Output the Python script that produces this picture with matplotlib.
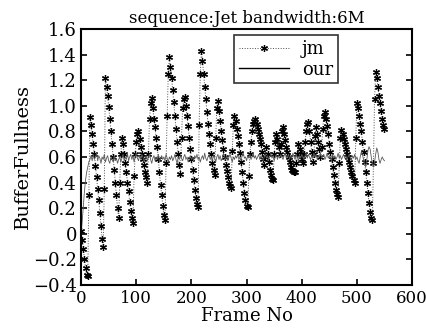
import numpy as np
import matplotlib
matplotlib.use("Agg")
import matplotlib.pyplot as plt

plt.rcParams['font.family'] = ['DejaVu Serif']

# frame numbers (every second frame)
frames = np.arange(0, 551, 2)

# buffer fullness, jm encoder
jm = [
    0.02, -0.05, -0.12, -0.20, -0.27, -0.32, -0.33, 0.30, 0.91, 0.85, 0.78, 0.70, 0.62, 0.53, 0.44, 0.35, 0.26, 0.16, 0.06, -0.04,
    -0.10, 0.35, 1.22, 1.15, 1.08, 0.99, 0.90, 0.80, 0.70, 0.60, 0.50, 0.40, 0.30, 0.20, 0.12, 0.40, 0.62, 0.75, 0.70, 0.62,
    0.55, 0.48, 0.40, 0.33, 0.25, 0.18, 0.12, 0.08, 0.45, 0.62, 0.72, 0.78, 0.80, 0.74, 0.68, 0.62, 0.58, 0.54, 0.48, 0.44,
    0.40, 0.62, 0.90, 1.02, 1.06, 0.98, 0.90, 0.83, 0.75, 0.68, 0.58, 0.48, 0.38, 0.30, 0.22, 0.15, 0.11, 0.55, 0.92, 1.25,
    1.38, 1.30, 1.22, 1.12, 1.03, 0.92, 0.82, 0.72, 0.62, 0.54, 0.47, 0.75, 0.98, 1.05, 1.07, 1.00, 0.92, 0.84, 0.75, 0.66,
    0.58, 0.50, 0.42, 0.34, 0.28, 0.23, 0.21, 0.85, 1.25, 1.43, 1.35, 1.25, 1.15, 1.05, 0.95, 0.86, 0.78, 0.70, 0.62, 0.55,
    0.50, 0.46, 0.75, 0.98, 1.04, 0.96, 0.88, 0.80, 0.73, 0.66, 0.60, 0.54, 0.49, 0.44, 0.40, 0.37, 0.36, 0.65, 0.85, 0.92,
    0.88, 0.82, 0.76, 0.70, 0.63, 0.56, 0.48, 0.40, 0.32, 0.26, 0.22, 0.21, 0.45, 0.62, 0.72, 0.80, 0.86, 0.88, 0.90, 0.86,
    0.82, 0.78, 0.74, 0.70, 0.64, 0.58, 0.54, 0.60, 0.68, 0.62, 0.56, 0.50, 0.46, 0.43, 0.42, 0.62, 0.72, 0.78, 0.74, 0.68,
    0.62, 0.70, 0.80, 0.83, 0.78, 0.73, 0.68, 0.64, 0.60, 0.56, 0.52, 0.50, 0.49, 0.48, 0.48, 0.55, 0.62, 0.70, 0.66, 0.62,
    0.58, 0.55, 0.62, 0.72, 0.80, 0.86, 0.87, 0.80, 0.72, 0.64, 0.56, 0.62, 0.76, 0.83, 0.78, 0.72, 0.66, 0.60, 0.68, 0.82,
    0.92, 0.95, 0.90, 0.84, 0.78, 0.70, 0.64, 0.58, 0.52, 0.46, 0.40, 0.34, 0.31, 0.29, 0.55, 0.75, 0.81, 0.78, 0.74, 0.70,
    0.66, 0.62, 0.60, 0.56, 0.52, 0.48, 0.45, 0.42, 0.40, 0.75, 1.02, 0.98, 0.92, 0.86, 0.80, 0.72, 0.64, 0.56, 0.48, 0.40,
    0.32, 0.24, 0.17, 0.12, 0.11, 0.55, 1.05, 1.26, 1.22, 1.15, 1.08, 1.02, 0.96, 0.90, 0.85, 0.82,
]

# buffer fullness, proposed method
our = [
    0.00, 0.10, 0.22, 0.33, 0.42, 0.48, 0.52, 0.56, 0.58, 0.61, 0.57, 0.62, 0.58, 0.60, 0.63, 0.57, 0.61, 0.59, 0.55, 0.60,
    0.58, 0.62, 0.56, 0.59, 0.61, 0.57, 0.55, 0.60, 0.58, 0.56, 0.61, 0.57, 0.59, 0.55, 0.58, 0.60, 0.56, 0.59, 0.62, 0.57,
    0.60, 0.58, 0.63, 0.57, 0.60, 0.62, 0.58, 0.61, 0.56, 0.60, 0.63, 0.59, 0.57, 0.61, 0.58, 0.62, 0.60, 0.56, 0.59, 0.61,
    0.57, 0.60, 0.62, 0.58, 0.55, 0.59, 0.61, 0.57, 0.60, 0.58, 0.62, 0.56, 0.59, 0.61, 0.58, 0.60, 0.57, 0.62, 0.59, 0.56,
    0.60, 0.58, 0.61, 0.57, 0.59, 0.62, 0.58, 0.55, 0.60, 0.58, 0.61, 0.59, 0.57, 0.60, 0.62, 0.58, 0.60, 0.56, 0.59, 0.61,
    0.58, 0.60, 0.57, 0.61, 0.59, 0.62, 0.58, 0.60, 0.56, 0.59, 0.61, 0.58, 0.63, 0.59, 0.57, 0.60, 0.62, 0.58, 0.60, 0.57,
    0.61, 0.59, 0.56, 0.60, 0.62, 0.58, 0.61, 0.57, 0.59, 0.63, 0.60, 0.58, 0.61, 0.57, 0.60, 0.62, 0.59, 0.56, 0.60, 0.58,
    0.61, 0.59, 0.62, 0.58, 0.60, 0.57, 0.61, 0.63, 0.59, 0.60, 0.57, 0.61, 0.59, 0.62, 0.58, 0.60, 0.63, 0.59, 0.61, 0.58,
    0.60, 0.62, 0.58, 0.61, 0.59, 0.57, 0.60, 0.62, 0.59, 0.61, 0.58, 0.60, 0.63, 0.59, 0.61, 0.57, 0.60, 0.62, 0.58, 0.61,
    0.59, 0.62, 0.60, 0.58, 0.61, 0.63, 0.59, 0.60, 0.62, 0.58, 0.61, 0.59, 0.63, 0.60, 0.58, 0.62, 0.60, 0.57, 0.61, 0.59,
    0.62, 0.60, 0.58, 0.61, 0.63, 0.59, 0.62, 0.60, 0.58, 0.61, 0.59, 0.63, 0.60, 0.62, 0.58, 0.61, 0.60, 0.63, 0.59, 0.61,
    0.62, 0.58, 0.60, 0.63, 0.59, 0.61, 0.60, 0.57, 0.62, 0.59, 0.61, 0.58, 0.60, 0.63, 0.59, 0.61, 0.58, 0.60, 0.62, 0.59,
    0.61, 0.58, 0.60, 0.62, 0.59, 0.57, 0.61, 0.59, 0.62, 0.58, 0.60, 0.57, 0.55, 0.60, 0.64, 0.62, 0.58, 0.55, 0.52, 0.58,
    0.65, 0.68, 0.66, 0.60, 0.55, 0.52, 0.56, 0.62, 0.67, 0.64, 0.58, 0.55, 0.58, 0.60, 0.58, 0.57,
]

xticks = [0, 100, 200, 300, 400, 500, 600]
yticks = [-0.4, -0.2, 0, 0.2, 0.4, 0.6, 0.8, 1.0, 1.2, 1.4, 1.6]
ylabels = ['\u22120.4', '\u22120.2', '0', '0.2', '0.4', '0.6', '0.8', '1.0', '1.2', '1.4', '1.6']

fig = plt.figure(figsize=(4.27, 3.29), dpi=100)
ax = fig.add_axes([0.19, 0.134, 0.775, 0.778])

ax.plot(frames, jm, linestyle=':', color='0.3', linewidth=0.7,
        marker=(6, 2, 0), markersize=5, markeredgewidth=0.9,
        markeredgecolor='black', label='jm')
ax.plot(frames, our, linestyle='-', color='0.35', linewidth=0.6, label='our')

ax.set_xlim(0, 600)
ax.set_ylim(-0.4, 1.6)
ax.set_xticks(xticks)
ax.set_yticks(yticks)
ax.set_yticklabels(ylabels)
ax.tick_params(direction='in', length=4, width=1.2, right=True)
ax.tick_params(axis='x', pad=4, labelsize=12)
ax.tick_params(axis='y', pad=3, labelsize=13)
for s in ax.spines.values():
    s.set_linewidth(1.5)

ax.set_title('sequence:Jet bandwidth:6M', fontsize=12, pad=4)
ax.set_xlabel('Frame No', fontsize=13, labelpad=0)
ax.set_ylabel('BufferFullness', fontsize=14, labelpad=1)

leg = ax.legend(loc='upper right', bbox_to_anchor=(0.775, 0.975), fontsize=13,
                frameon=True, fancybox=False, handlelength=2.8,
                borderpad=0.25, labelspacing=0.15, handletextpad=0.7,
                borderaxespad=0)
leg.get_frame().set_edgecolor('black')
leg.get_frame().set_linewidth(1.2)
leg.legend_handles[1].set_color('black')
leg.legend_handles[1].set_linewidth(1.0)

fig.savefig('out.png', dpi=100)
